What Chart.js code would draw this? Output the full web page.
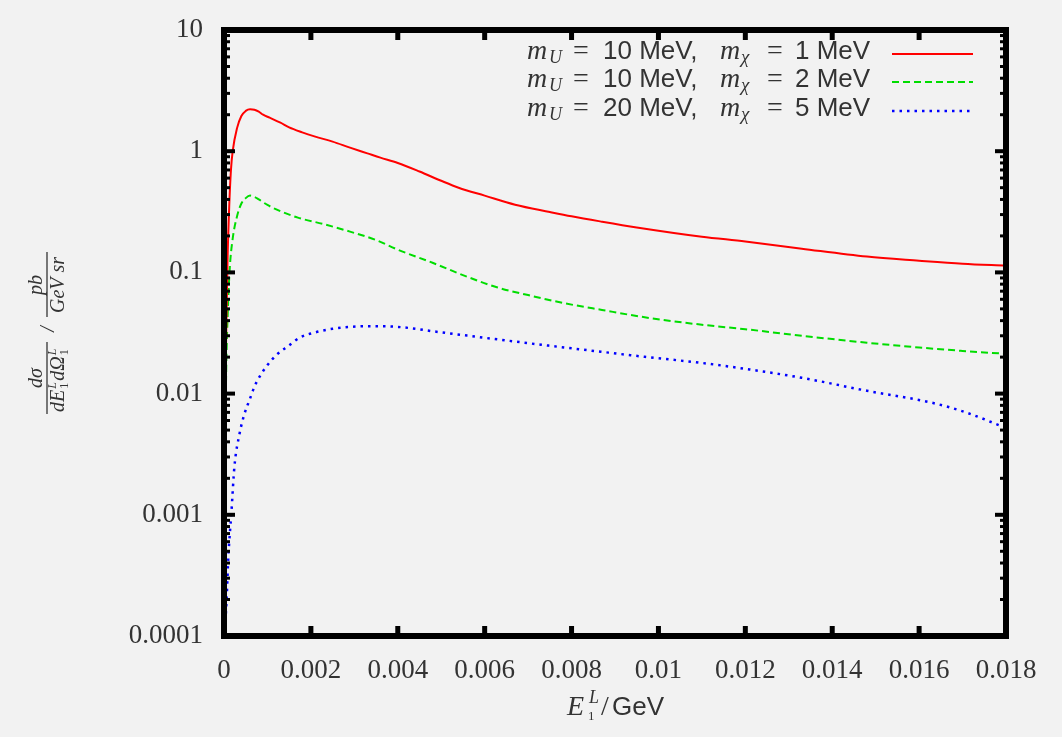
<!DOCTYPE html>
<html><head><meta charset="utf-8">
<script src="https://cdn.jsdelivr.net/npm/chart.js@4/dist/chart.umd.min.js"></script>
<style>html,body{margin:0;padding:0;background:#f2f2f2;}#wrap{width:1062px;height:737px;position:relative;}</style>
</head><body><div id="wrap"><canvas id="c" width="1062" height="737"></canvas></div>
<script>
// ---- data ----
const xRed = [0,0.00002,0.00005,0.00008,0.00012,0.00016,0.0002,0.0003,0.0004,0.0005,0.0006,0.0007,0.0008,0.0009,0.00105,0.0013,0.0015,0.0018,0.0021,0.0025,0.0029,0.0033,0.0036,0.004,0.0045,0.005,0.0054,0.006,0.0067,0.0075,0.008,0.0087,0.0095,0.011,0.012,0.0133,0.0148,0.016,0.017,0.018];
const yRed = [0.0001,0.003,0.03,0.12,0.35,0.7,1.0,1.55,1.95,2.15,2.22,2.2,2.12,2.0,1.89,1.72,1.57,1.43,1.32,1.2,1.07,0.96,0.885,0.8,0.68,0.57,0.5,0.43,0.362,0.315,0.29,0.262,0.235,0.197,0.18,0.157,0.135,0.125,0.118,0.1135];
const xGreen = [0,0.00002,0.00005,0.00009,0.00013,0.0002,0.0003,0.0004,0.0005,0.0006,0.0007,0.0008,0.001,0.0013,0.0017,0.0023,0.0029,0.0035,0.004,0.0048,0.0056,0.0063,0.007,0.0078,0.0087,0.0098,0.011,0.012,0.0133,0.0148,0.016,0.017,0.018];
const yGreen = [0.0001,0.002,0.015,0.05,0.105,0.19,0.29,0.37,0.41,0.43,0.42,0.4,0.36,0.32,0.283,0.25,0.217,0.185,0.154,0.12,0.092,0.075,0.065,0.056,0.049,0.042,0.037,0.034,0.030,0.0263,0.024,0.0225,0.0213];
const xBlue = [0,0.00003,0.00006,0.0001,0.00017,0.00024,0.00036,0.00047,0.00059,0.0007,0.00082,0.001,0.00121,0.0015,0.00174,0.0021,0.0025,0.0029,0.0033,0.004,0.005,0.0063,0.0075,0.0087,0.0098,0.011,0.012,0.0133,0.0148,0.0163,0.0171,0.018];
const yBlue = [0.0001,0.00013,0.0002,0.00045,0.00104,0.0025,0.0047,0.0068,0.0089,0.0114,0.0138,0.0172,0.0209,0.025,0.0289,0.032,0.0343,0.0355,0.036,0.0355,0.032,0.028,0.0248,0.0221,0.0199,0.0179,0.016,0.0135,0.01055,0.0084,0.00695,0.0052];
const mU = ['10','10','20'];
const mChi = ['1','2','5'];
const xTickValues = [0,0.002,0.004,0.006,0.008,0.01,0.012,0.014,0.016,0.018];
const xTickLabels = ['0','0.002','0.004','0.006','0.008','0.01','0.012','0.014','0.016','0.018'];
const yTickValues = [10,1,0.1,0.01,0.001,0.0001];
const yTickLabels = ['10','1','0.1','0.01','0.001','0.0001'];

const colors = ['#ff0000','#00dd00','#0000ff'];
const dashes = [[],[7,4],[2.5,5]];
const widths = [2,2,2.5];

function pts(xs, ys){ return xs.map((x,i)=>({x:x, y:ys[i]})); }
function majorIndex(v){ return yTickValues.findIndex(t=>Math.abs(Math.log10(v)-Math.log10(t))<1e-6); }

const textColor = '#333';

const decoPlugin = {
  id:'deco',
  afterDatasetsDraw(chart){
    const ctx = chart.ctx, a = chart.chartArea, xs = chart.scales.x, ys = chart.scales.y;
    ctx.save();
    // frame
    ctx.strokeStyle = '#000';
    ctx.lineWidth = 6;
    ctx.strokeRect(a.left, a.top, a.right-a.left, a.bottom-a.top);
    function seg(x1,y1,x2,y2){ ctx.beginPath(); ctx.moveTo(x1,y1); ctx.lineTo(x2,y2); ctx.stroke(); }
    ctx.lineWidth = 5;
    xTickValues.forEach(v=>{
      const px = xs.getPixelForValue(v);
      seg(px, a.bottom, px, a.bottom-10);
      seg(px, a.top, px, a.top+10);
    });
    ys.ticks.forEach(t=>{
      const py = ys.getPixelForValue(t.value);
      const major = majorIndex(t.value) >= 0;
      ctx.lineWidth = major ? 4 : 3;
      const L = major ? 11 : 6;
      seg(a.left, py, a.left+L, py);
      seg(a.right, py, a.right-L, py);
    });

    // legend
    const lineX1 = a.right - 114, lineX2 = a.right - 33;
    const rowY = [a.top+24, a.top+52, a.top+81];
    const x0 = lineX1 - 365;
    for (let i=0;i<3;i++){
      const base = rowY[i] + 5;
      ctx.fillStyle = textColor;
      ctx.textBaseline = 'alphabetic';
      ctx.textAlign = 'left';
      ctx.font = 'italic 28px "Liberation Serif"';
      ctx.fillText('m', x0, base);
      ctx.font = 'italic 18px "Liberation Serif"';
      ctx.fillText('U', x0+22, base+4);
      ctx.font = '28px "Liberation Serif"';
      ctx.fillText('=', x0+46, base);
      ctx.font = '26px "Liberation Sans"';
      ctx.fillText(mU[i] + ' MeV,', x0+76, base);
      ctx.font = 'italic 28px "Liberation Serif"';
      ctx.fillText('m', x0+193, base);
      ctx.font = 'italic 19px "Liberation Serif"';
      ctx.fillText('\u03C7', x0+214, base+4);
      ctx.font = '28px "Liberation Serif"';
      ctx.fillText('=', x0+240, base);
      ctx.font = '26px "Liberation Sans"';
      ctx.fillText(mChi[i] + ' MeV', x0+268, base);
      ctx.strokeStyle = colors[i];
      ctx.lineWidth = widths[i];
      ctx.setLineDash(dashes[i]);
      seg(lineX1, rowY[i], lineX2, rowY[i]);
      ctx.setLineDash([]);
    }

    // x-axis title: E_1^L / GeV
    const cx = (a.left + a.right)/2;
    const xb = a.bottom + 79;
    let sx = cx - 48;
    ctx.fillStyle = textColor;
    ctx.font = 'italic 28px "Liberation Serif"';
    ctx.fillText('E', sx, xb);
    ctx.font = 'italic 18px "Liberation Serif"';
    ctx.fillText('L', sx+22, xb-12);
    ctx.font = '13px "Liberation Serif"';
    ctx.fillText('1', sx+21, xb+5);
    ctx.font = '28px "Liberation Serif"';
    ctx.fillText('/', sx+34, xb);
    ctx.font = '26px "Liberation Sans"';
    ctx.fillText('GeV', sx+45, xb);

    // y-axis title (rotated): d sigma / (dE_1^L dOmega_1^L) / (pb / GeV sr)
    const cy = 333;
    ctx.translate(47, cy);
    ctx.rotate(-Math.PI/2);
    ctx.strokeStyle = textColor;
    ctx.lineWidth = 1.3;
    const F = 'italic 20px "Liberation Serif"', FS = 'italic 12px "Liberation Serif"', FN = '12px "Liberation Serif"';
    // fraction 1
    seg(-81, 0, -9, 0);
    ctx.textAlign = 'center';
    ctx.font = F;
    ctx.fillText('d\u03C3', -45, -5);
    ctx.textAlign = 'left';
    let u = -79;
    ctx.font = F; ctx.fillText('dE', u, 17); u += ctx.measureText('dE').width + 1;
    ctx.font = FS; ctx.fillText('L', u, 9);
    ctx.font = FN; ctx.fillText('1', u, 21); u += 8;
    ctx.font = F; ctx.fillText('d\u03A9', u, 17); u += ctx.measureText('d\u03A9').width + 1;
    ctx.font = FS; ctx.fillText('L', u, 9);
    ctx.font = FN; ctx.fillText('1', u, 21);
    // slash
    ctx.font = F;
    ctx.textAlign = 'center';
    ctx.textBaseline = 'middle';
    ctx.fillText('/', 4, 2);
    // fraction 2
    ctx.textBaseline = 'alphabetic';
    seg(16, 0, 81, 0);
    ctx.fillText('pb', 48, -5);
    ctx.fillText('GeV sr', 48, 17);
    ctx.restore();
  }
};

new Chart(document.getElementById('c'), {
  type: 'line',
  data: {
    datasets: [
      {label:'mU = 10 MeV, m\u03C7 = 1 MeV', data: pts(xRed,yRed), borderColor: colors[0], borderWidth: widths[0], borderDash: dashes[0], pointRadius:0, cubicInterpolationMode:'monotone', fill:false},
      {label:'mU = 10 MeV, m\u03C7 = 2 MeV', data: pts(xGreen,yGreen), borderColor: colors[1], borderWidth: widths[1], borderDash: dashes[1], pointRadius:0, cubicInterpolationMode:'monotone', fill:false},
      {label:'mU = 20 MeV, m\u03C7 = 5 MeV', data: pts(xBlue,yBlue), borderColor: colors[2], borderWidth: widths[2], borderDash: dashes[2], pointRadius:0, cubicInterpolationMode:'monotone', fill:false}
    ]
  },
  options: {
    responsive: false,
    animation: false,
    layout: { padding: { top: 30, right: 56, left: 0, bottom: 0 } },
    plugins: { legend: { display:false }, tooltip: { enabled:false } },
    scales: {
      x: {
        type: 'linear', min: 0, max: 0.018,
        afterBuildTicks: s => { s.ticks = xTickValues.map(v=>({value:v})); },
        afterFit: s => { s.height = 101; s.paddingLeft = 0; s.paddingRight = 0; },
        grid: { display:false, drawTicks:false },
        border: { display:false },
        ticks: {
          padding: 19, color: textColor, maxRotation: 0, autoSkip: false,
          font: { family: 'Liberation Serif', size: 27 },
          callback: (v) => { const i = xTickValues.findIndex(t=>Math.abs(t-v)<1e-9); return i>=0 ? xTickLabels[i] : ''; }
        }
      },
      y: {
        type: 'logarithmic', min: 0.0001, max: 10,
        afterBuildTicks: s => {
          const t = [];
          yTickValues.slice().reverse().forEach((m) => {
            t.push({value:m});
            if (m < 10) for (let j=2;j<=9;j++) t.push({value:m*j});
          });
          s.ticks = t;
        },
        afterFit: s => { s.width = 224; s.paddingTop = 0; s.paddingBottom = 0; },
        grid: { display:false, drawTicks:false },
        border: { display:false },
        ticks: {
          padding: 21, color: textColor, autoSkip: false,
          font: { family: 'Liberation Serif', size: 27 },
          callback: (v) => { const i = majorIndex(v); return i>=0 ? yTickLabels[i] : ''; }
        }
      }
    }
  },
  plugins: [decoPlugin]
});
</script></body></html>
